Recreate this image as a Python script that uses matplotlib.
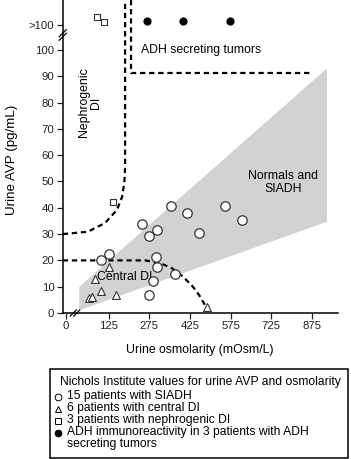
import matplotlib.pyplot as plt
from matplotlib.lines import Line2D
from matplotlib.patches import Rectangle

plt.rcParams['font.family'] = ['Liberation Sans', 'DejaVu Sans']

W, H = 351, 459

# x is drawn on the chart's own (broken) osmolarity scale, tick "0" sits left of the break
siadh_x = [97, 128, 247, 274, 304, 356, 415, 457, 299, 305, 371, 288, 275, 555, 617]
siadh_y = [20.0, 22.3, 33.7, 29.4, 31.7, 40.8, 38.2, 30.6, 21.2, 17.4, 14.7, 12.0, 7.0, 40.7, 35.2]

central_x = [128, 76, 97, 153, 54, 63, 489]
central_y = [17.3, 12.9, 8.2, 6.7, 5.6, 6.2, 2.2]

nephro_x = [143, 82, 110]
nephro_y = [42.1, 112.5, 110.7]

tumor_x = [266, 398, 574]
tumor_y = [111.1, 111.1, 111.1]

# zones
normal_x = [17, 930, 930, 17]
normal_y = [1.0, 34.7, 93.0, 10.0]

central_zone_x = [-44, 260, 315, 359, 400, 436, 459, 477, 488]
central_zone_y = [20, 20, 19, 17, 13.8, 10, 6.8, 3.7, 1.2]

nephro_zone_x = [-44, 49, 112, 156, 175, 183, 186, 186]
nephro_zone_y = [30, 30.9, 34.2, 39.2, 44.2, 49.3, 55, 119]

tumor_zone_x = [208, 208, 868]
tumor_zone_y = [119, 91.2, 91.2]

x_ticks = [-32, 125, 275, 425, 575, 725, 875]
x_labels = ['0', '125', '275', '425', '575', '725', '875']
y_ticks = [0, 10, 20, 30, 40, 50, 60, 70, 80, 90, 100, 109.6]
y_labels = ['0', '10', '20', '30', '40', '50', '60', '70', '80', '90', '100', '>100']

fig = plt.figure(figsize=(W / 100, H / 100), dpi=100)
ax = fig.add_axes([62.7 / W, (H - 313) / H, (338 - 62.7) / W, 313 / H])
ax.set_xlim(-44, 971)
ax.set_ylim(0, 119)

ax.fill(normal_x, normal_y, color='#d2d2d2', lw=0, zorder=1)

dash = (0, (2.4, 1.7))
for xs, ys in [(central_zone_x, central_zone_y), (nephro_zone_x, nephro_zone_y),
               (tumor_zone_x, tumor_zone_y)]:
    ax.plot(xs, ys, color='black', lw=1.6, linestyle=dash, zorder=2, clip_on=False)

ax.scatter(siadh_x, siadh_y, s=46, marker='o', facecolor='white', edgecolor='#333333', lw=0.9, zorder=4)
ax.scatter(central_x, central_y, s=32, marker='^', facecolor='white', edgecolor='#333333', lw=0.8, zorder=4)
ax.scatter(nephro_x, nephro_y, s=18, marker='s', facecolor='white', edgecolor='#333333', lw=0.8, zorder=4)
ax.scatter(tumor_x, tumor_y, s=24, marker='o', color='black', zorder=4)

ax.text(245, 100, 'ADH secreting tumors', fontsize=8.8, va='center', ha='left')
ax.text(768, 49.6, 'Normals and\nSIADH', fontsize=8.8, va='center', ha='center', linespacing=1.05)
ax.text(83, 13.7, 'Central DI', fontsize=8.8, va='center', ha='left', zorder=3)
ax.text(57, 80, 'Nephrogenic\nDI', fontsize=8.8, va='center', ha='center', rotation=90, linespacing=1.05)

for s in ['top', 'right']:
    ax.spines[s].set_visible(False)
for s in ['left', 'bottom']:
    ax.spines[s].set_linewidth(1.1)

ax.set_xticks(x_ticks)
ax.set_xticklabels(x_labels)
ax.set_yticks(y_ticks)
ax.set_yticklabels(y_labels)
ax.tick_params(labelsize=8.2, length=4, width=0.9, pad=2, colors='#222222')


# break marks on both axes, offsets in pixels
def slashes(xd, yd, d, gap, along):
    px, py = ax.transData.transform((xd, yd))
    for o in (-gap / 2, gap / 2):
        ox, oy = (o, 0) if along == 'x' else (0, o)
        fig.add_artist(Line2D([px + ox - d, px + ox + d], [py + oy - d, py + oy + d],
                              color='black', lw=0.9, transform=None))


slashes(-44, 105.7, 3.5, 3.5, 'y')
slashes(1.5, 0, 3.0, 3.5, 'x')

fig.text(12 / W, 1 - 160 / H, 'Urine AVP (pg/mL)', rotation=90, fontsize=9.6,
         ha='center', va='center')
fig.text(200 / W, 1 - 350 / H, 'Urine osmolarity (mOsm/L)', fontsize=8.8,
         ha='center', va='center')

# legend box
fig.patches.append(Rectangle((50 / W, 1 / H), 298 / W, 89 / H, transform=fig.transFigure,
                             fill=False, edgecolor='black', lw=1.1))
fig.text(60 / W, 1 - 382 / H, 'Nichols Institute values for urine AVP and osmolarity',
         fontsize=8.7, va='center')
legend_rows = [
    ('o', 'white', '15 patients with SIADH', 396.5, 4.8),
    ('^', 'white', '6 patients with central DI', 408.5, 4.8),
    ('s', 'white', '3 patients with nephrogenic DI', 420.5, 3.8),
    ('o', 'black', 'ADH immunoreactivity in 3 patients with ADH', 432.5, 4.8),
]
for m, fc, label, ypx, ms in legend_rows:
    fig.add_artist(Line2D([58 / W], [1 - ypx / H], marker=m, markersize=ms,
                          markerfacecolor=fc, markeredgecolor='black', markeredgewidth=0.7,
                          linestyle='none', transform=fig.transFigure))
    fig.text(67 / W, 1 - ypx / H, label, fontsize=8.7, va='center')
fig.text(67 / W, 1 - 444.5 / H, 'secreting tumors', fontsize=8.7, va='center')

fig.savefig('out.png', dpi=100)
